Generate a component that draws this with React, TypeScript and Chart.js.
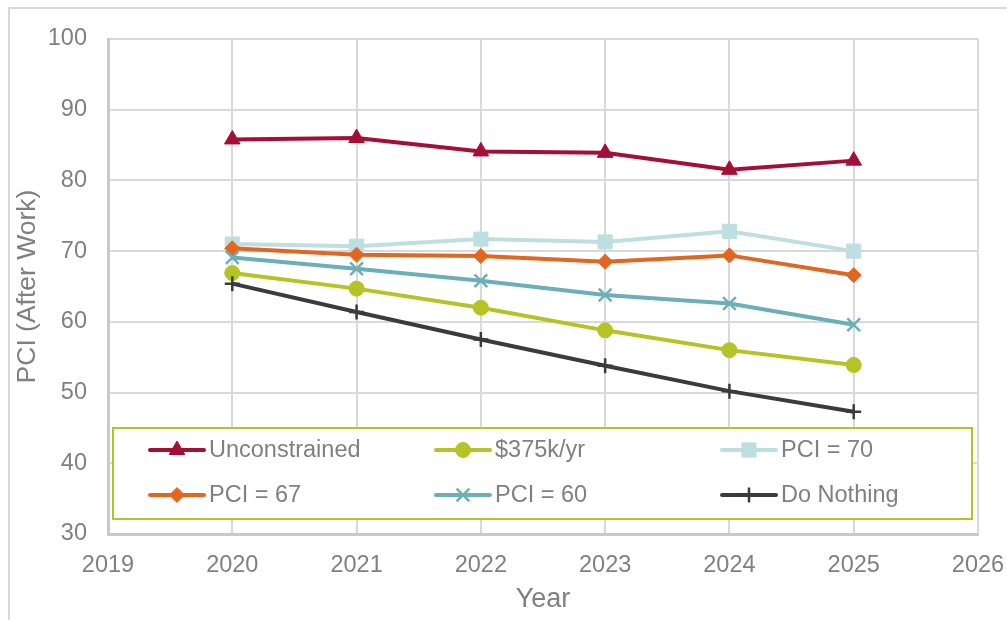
import React, { useEffect, useRef } from "react";
import { Chart, registerables } from "chart.js";
import { drawPoint } from "chart.js/helpers";

Chart.register(...registerables);

const years = [2020, 2021, 2022, 2023, 2024, 2025];
const seriesNames = ["Unconstrained", "$375k/yr", "PCI = 70", "PCI = 67", "PCI = 60", "Do Nothing"];
const unconstrained = [85.8, 86.0, 84.1, 83.9, 81.5, 82.8];
const budget375k = [66.9, 64.7, 62.0, 58.8, 56.0, 53.9];
const pci70 = [71.0, 70.7, 71.7, 71.3, 72.8, 70.0];
const pci67 = [70.4, 69.5, 69.3, 68.5, 69.4, 66.6];
const pci60 = [69.1, 67.5, 65.8, 63.8, 62.6, 59.6];
const doNothing = [65.4, 61.4, 57.5, 53.8, 50.2, 47.3];
const xMin = 2019;
const xMax = 2026;
const yMin = 30;
const yMax = 100;

const seriesValues = [unconstrained, budget375k, pci70, pci67, pci60, doNothing];
const colors = ["#A50E36", "#B5C424", "#BEDFE1", "#E2661F", "#6BAFB9", "#3B3B3B"];
const styles = ["triangle", "circle", "rect", "rectRot", "crossRot", "cross"];
const radii = [9, 7.5, 10, 7.5, 9, 7.5];

const FONT = "'Liberation Sans', Arial, sans-serif";
const TEXT = "#808080";

const framePlugin = {
  id: "frame",
  beforeDraw(chart: any) {
    const ctx = chart.ctx;
    ctx.save();
    ctx.fillStyle = "#ffffff";
    ctx.fillRect(0, 0, chart.width, chart.height);
    ctx.strokeStyle = "#d9d9d9";
    ctx.lineWidth = 2;
    ctx.strokeRect(9, 8, chart.width + 10, chart.height + 10);
    ctx.restore();
  },
};

const legendPlugin = {
  id: "boxLegend",
  afterDraw(chart: any) {
    const ctx = chart.ctx;
    ctx.save();
    ctx.fillStyle = "#ffffff";
    ctx.fillRect(113, 428, 859, 91);
    ctx.strokeStyle = "#B5C424";
    ctx.lineWidth = 2;
    ctx.strokeRect(113, 428, 859, 91);
    const colX = [150, 436, 722];
    const rowY = [450, 495];
    seriesNames.forEach((name, i) => {
      const x = colX[i % 3];
      const y = rowY[Math.floor(i / 3)];
      ctx.strokeStyle = colors[i];
      ctx.lineWidth = 4;
      ctx.lineCap = "round";
      ctx.beginPath();
      ctx.moveTo(x, y);
      ctx.lineTo(x + 54, y);
      ctx.stroke();
      ctx.lineCap = "butt";
      ctx.fillStyle = colors[i];
      ctx.strokeStyle = colors[i];
      const isCross = styles[i] === "cross" || styles[i] === "crossRot";
      ctx.lineWidth = isCross ? 2.5 : 1;
      drawPoint(ctx, { pointStyle: styles[i], radius: radii[i], rotation: 0, borderWidth: 1 } as any, x + 27, y);
      ctx.fillStyle = TEXT;
      ctx.font = `23.5px ${FONT}`;
      ctx.textAlign = "left";
      ctx.textBaseline = "middle";
      ctx.fillText(name, x + 59, y + 1);
    });
    ctx.restore();
  },
};

export default function App() {
  const canvasRef = useRef<HTMLCanvasElement | null>(null);

  useEffect(() => {
    if (!canvasRef.current) return;
    const datasets = seriesNames.map((name, i) => {
      const isCross = styles[i] === "cross" || styles[i] === "crossRot";
      return {
        label: name,
        data: years.map((yr, j) => ({ x: yr, y: seriesValues[i][j] })),
        borderColor: colors[i],
        backgroundColor: colors[i],
        borderWidth: 4,
        pointStyle: styles[i],
        pointRadius: radii[i],
        pointBackgroundColor: colors[i],
        pointBorderColor: colors[i],
        pointBorderWidth: isCross ? 2.5 : 1,
        tension: 0,
        order: seriesNames.length - i,
      };
    });
    const chart = new Chart(canvasRef.current, {
      type: "line",
      data: { datasets } as any,
      plugins: [framePlugin, legendPlugin],
      options: {
        animation: false,
        responsive: false,
        devicePixelRatio: 1,
        layout: { padding: { left: 0, top: 39, right: 29, bottom: 0 } },
        plugins: { legend: { display: false }, tooltip: { enabled: false } },
        scales: {
          x: {
            type: "linear",
            min: xMin,
            max: xMax,
            afterFit(scale: any) {
              scale.height = 86;
              scale.paddingLeft = 0;
              scale.paddingRight = 0;
            },
            ticks: {
              stepSize: 1,
              autoSkip: false,
              maxRotation: 0,
              padding: 17,
              color: TEXT,
              font: { family: FONT, size: 23.5 },
              callback: (v: any) => String(v),
            },
            grid: { color: "#d9d9d9", lineWidth: 2, drawTicks: false },
            border: { color: "#c9c9c9", width: 3 },
            title: {
              display: true,
              text: "Year",
              color: TEXT,
              font: { family: FONT, size: 27 },
              padding: 4,
            },
          },
          y: {
            min: yMin,
            max: yMax,
            afterFit(scale: any) {
              scale.width = 108;
            },
            ticks: {
              stepSize: 10,
              padding: 21,
              color: TEXT,
              font: { family: FONT, size: 23.5 },
            },
            grid: { color: "#d9d9d9", lineWidth: 2, drawTicks: false },
            border: { color: "#c9c9c9", width: 3 },
            title: {
              display: true,
              text: "PCI (After Work)",
              color: TEXT,
              font: { family: FONT, size: 26.5 },
              padding: 12,
            },
          },
        },
      } as any,
    });
    return () => chart.destroy();
  }, []);

  return (
    <div style={{ position: "absolute", left: 0, top: 0, width: 1007, height: 620 }}>
      <canvas ref={canvasRef} width={1007} height={620} style={{ width: 1007, height: 620, display: "block" }} />
    </div>
  );
}
